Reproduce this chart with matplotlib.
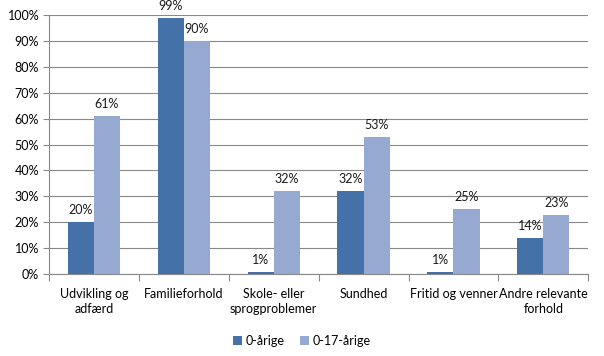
import matplotlib
matplotlib.use('Agg')
import matplotlib.pyplot as plt
import numpy as np
from matplotlib.ticker import FuncFormatter

categories = ['Udvikling og\nadfærd', 'Familieforhold', 'Skole- eller\nsprogproblemer',
              'Sundhed', 'Fritid og venner', 'Andre relevante\nforhold']
series_names = ['0-årige', '0-17-årige']
values_0 = [20, 99, 1, 32, 1, 14]
values_0_17 = [61, 90, 32, 53, 25, 23]
colors = ['#4472a8', '#95a9d1']

plt.rcParams['font.family'] = ['Lato', 'DejaVu Sans']
plt.rcParams['font.size'] = 9

fig = plt.figure(figsize=(6.04, 3.56), dpi=100)
ax = fig.add_axes([0.081, 0.230, 0.893, 0.728])

x = np.arange(len(categories))
w = 0.29
for i, (vals, name) in enumerate(zip([values_0, values_0_17], series_names)):
    pos = x + (i - 0.5) * w
    ax.bar(pos, vals, width=w, color=colors[i], label=name, zorder=3)
    for p, v in zip(pos, vals):
        ax.text(p, v + 2.3, '%d%%' % v, ha='center', va='bottom', fontsize=9, color='#1a1a1a')

ax.set_xlim(-0.5, len(categories) - 0.5)
ax.set_ylim(0, 100)
ax.set_yticks(range(0, 101, 10))
ax.yaxis.set_major_formatter(FuncFormatter(lambda v, _: '%d%%' % v))
ax.grid(axis='y', color='#888888', linewidth=0.8, zorder=0)

ax.set_xticks(np.arange(len(categories) + 1) - 0.5)
ax.set_xticklabels([])
ax.set_xticks(x, minor=True)
ax.set_xticklabels(categories, minor=True, linespacing=1.3)
ax.tick_params(axis='x', which='minor', length=0, pad=10)
ax.tick_params(axis='x', which='major', length=5, color='#888888')
ax.tick_params(axis='y', length=4, color='#888888', pad=3)

for s in ['top', 'right']:
    ax.spines[s].set_visible(False)
for s in ['left', 'bottom']:
    ax.spines[s].set_color('#888888')

fig.legend(loc='lower center', bbox_to_anchor=(0.5, -0.005), ncol=2, frameon=False,
           handlelength=0.7, handleheight=0.7, handletextpad=0.3, columnspacing=1.2, fontsize=9)

fig.savefig('out.png', dpi=100)
